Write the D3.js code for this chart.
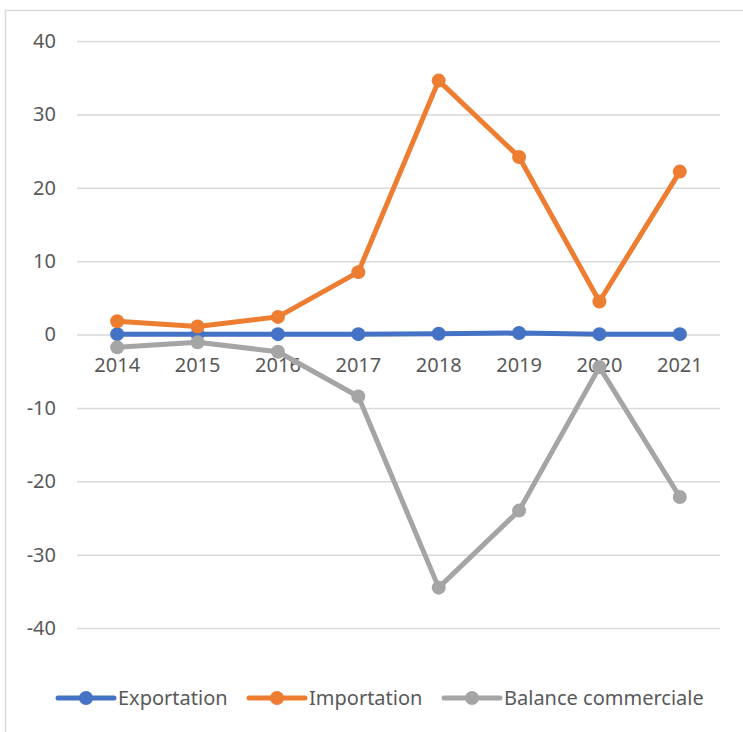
<!DOCTYPE html>
<html>
<head>
<meta charset="utf-8">
<script src="https://cdn.jsdelivr.net/npm/d3@7"></script>
<style>
  body { margin: 0; background: #fff; }
  text { font-family: "Noto Sans", sans-serif; fill: #595959; }
</style>
</head>
<body>
<div id="chart"></div>
<script>
var years = ["2014", "2015", "2016", "2017", "2018", "2019", "2020", "2021"];
var exportation = [0.05, 0.05, 0.05, 0.05, 0.1, 0.2, 0.05, 0.05];
var importation = [1.8, 1.1, 2.4, 8.5, 34.6, 24.2, 4.5, 22.2];
var balance = [-1.75, -1.05, -2.35, -8.45, -34.5, -24.0, -4.45, -22.15];
var yTicks = [-40, -30, -20, -10, 0, 10, 20, 30, 40];
var seriesNames = ["Exportation", "Importation", "Balance commerciale"];
var seriesColors = ["#4472C4", "#ED7D31", "#A5A5A5"];

var width = 743, height = 732;
var margin = {top: 41, right: 23, bottom: 104, left: 77};

var svg = d3.select("#chart").append("svg")
    .attr("width", width)
    .attr("height", height);

svg.append("rect")
    .attr("x", 5.5).attr("y", 10.5)
    .attr("width", 740).attr("height", 730)
    .attr("fill", "none")
    .attr("stroke", "#D9D9D9")
    .attr("stroke-width", 1.5);

var x = d3.scaleBand()
    .domain(years)
    .range([margin.left, width - margin.right]);

var y = d3.scaleLinear()
    .domain([-40, 40])
    .range([height - margin.bottom, margin.top]);

// gridlines + y labels
var yAxis = svg.append("g")
    .attr("transform", "translate(" + margin.left + ",0)")
    .call(d3.axisLeft(y)
        .tickValues(yTicks)
        .tickSize(-(width - margin.left - margin.right))
        .tickPadding(21)
        .tickFormat(d => String(d)));
yAxis.select(".domain").remove();
yAxis.selectAll("line").attr("stroke", "#D9D9D9").attr("stroke-width", 1.5);
yAxis.selectAll("text").attr("font-size", 20).attr("fill", "#595959");

// x labels at zero line
var xAxis = svg.append("g")
    .attr("transform", "translate(0," + y(0) + ")")
    .call(d3.axisBottom(x).tickSize(0).tickPadding(23));
xAxis.select(".domain").remove();
xAxis.selectAll("text").attr("font-size", 20).attr("fill", "#595959");

var allSeries = [exportation, importation, balance];

var line = d3.line()
    .x((d, i) => x(years[i]) + x.bandwidth() / 2)
    .y(d => y(d));

allSeries.forEach((vals, s) => {
  var g = svg.append("g");
  g.append("path")
      .datum(vals)
      .attr("d", line)
      .attr("fill", "none")
      .attr("stroke", seriesColors[s])
      .attr("stroke-width", 5)
      .attr("stroke-linejoin", "round")
      .attr("stroke-linecap", "round");
  g.selectAll("circle")
      .data(vals)
      .enter()
      .append("circle")
      .attr("cx", (d, i) => x(years[i]) + x.bandwidth() / 2)
      .attr("cy", d => y(d))
      .attr("r", 7)
      .attr("fill", seriesColors[s]);
});

// legend
var legendX = [58, 249, 444];
var legendY = 698;
var legend = svg.append("g");
seriesNames.forEach((name, s) => {
  var lg = legend.append("g").attr("transform", "translate(" + legendX[s] + "," + legendY + ")");
  lg.append("line")
      .attr("x1", 0).attr("x2", 56)
      .attr("y1", 0).attr("y2", 0)
      .attr("stroke", seriesColors[s])
      .attr("stroke-width", 5)
      .attr("stroke-linecap", "round");
  lg.append("circle")
      .attr("cx", 28).attr("cy", 0).attr("r", 7)
      .attr("fill", seriesColors[s]);
  lg.append("text")
      .attr("x", 60).attr("y", 0)
      .attr("dy", "0.35em")
      .attr("font-size", 20)
      .text(name);
});
</script>
</body>
</html>
